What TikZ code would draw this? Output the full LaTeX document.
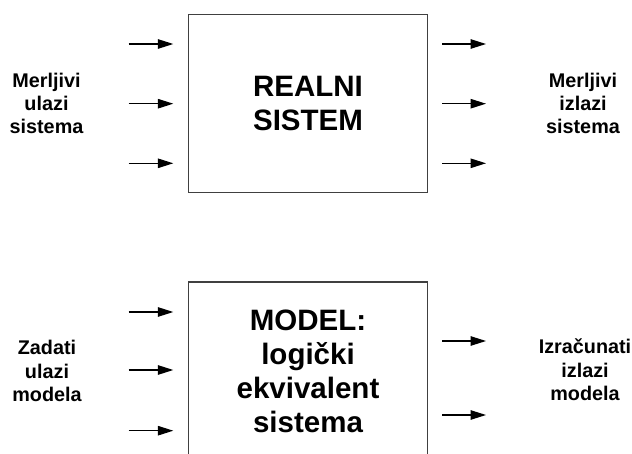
\documentclass[tikz,border=0pt]{standalone}
\usepackage{fontspec}
\setmainfont{Liberation Sans}
\usetikzlibrary{arrows.meta,positioning}

\begin{document}
\begin{tikzpicture}[x=1pt,y=-1pt,->,>={Triangle[length=15.5pt,width=9.5pt]},semithick]
	\tikzstyle{blok}=[rectangle, draw=black!75, line width=1.4pt, minimum width=238.6pt, minimum height=178pt, align=center, font=\bfseries\fontsize{29.5}{34}\selectfont]
	\tikzstyle{oznaka}=[align=center, font=\bfseries\fontsize{19.8}{23.4}\selectfont]
	\tikzstyle{every edge}=[draw=black, line width=1.2pt]
	
	\useasboundingbox (0,0) rectangle (632,454);
	\clip (0,0) rectangle (632,454);
	
	\node[blok] (sistem) at (308,103.7) {REALNI\\SISTEM};
	\node[blok] (model)  at (308,371)   {MODEL:\\logički\\ekvivalent\\sistema};
	
	\node[oznaka] (mu) at (46.5,103.5) {Merljivi\\ulazi\\sistema};
	\node[oznaka] (mi) at (583,103.5)  {Merljivi\\izlazi\\sistema};
	\node[oznaka] (zu) at (47,371)     {Zadati\\ulazi\\modela};
	\node[oznaka] (ii) at (585,370)    {Izračunati\\izlazi\\modela};
	
	% ulazi i izlazi
	\foreach \y [count=\i] in {44,103.7,163.3} {
		\coordinate (su\i) at (128.7,\y);
		\coordinate (su\i-k) at (173.3,\y);
		\coordinate (si\i) at (442,\y);
		\coordinate (si\i-k) at (486,\y);
		\path (su\i) edge (su\i-k);
		\path (si\i) edge (si\i-k);
	}
	\foreach \y [count=\i] in {312,370,430.7} {
		\coordinate (mu\i) at (128.7,\y);
		\coordinate (mu\i-k) at (173.3,\y);
		\path (mu\i) edge (mu\i-k);
	}
	\foreach \y [count=\i] in {341,415} {
		\coordinate (mi\i) at (442,\y);
		\coordinate (mi\i-k) at (486,\y);
		\path (mi\i) edge (mi\i-k);
	}
	
\end{tikzpicture}
\end{document}
